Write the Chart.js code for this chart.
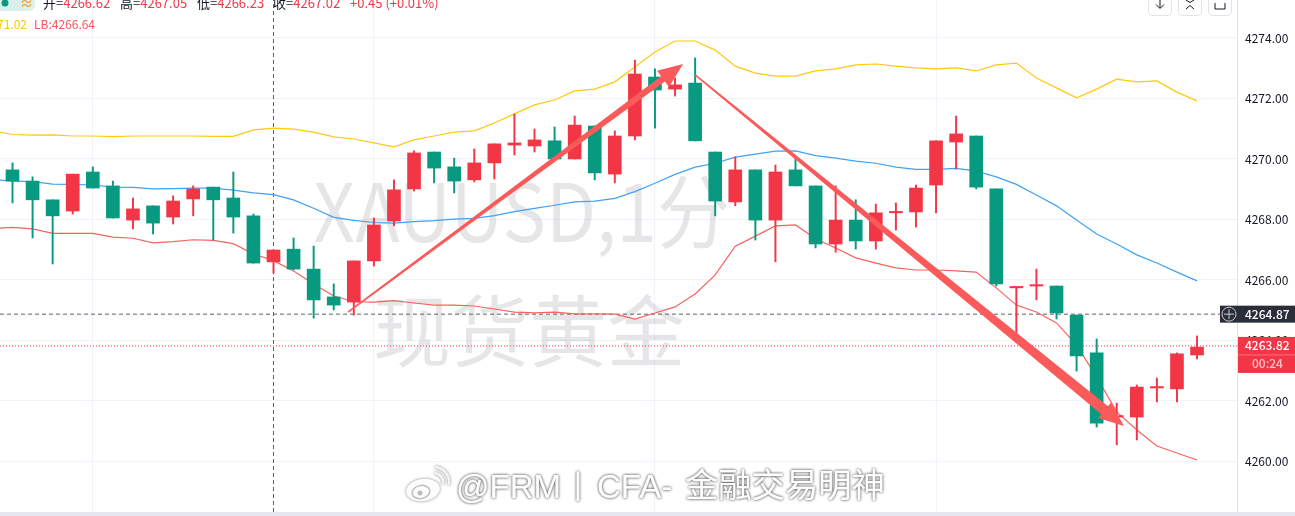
<!DOCTYPE html>
<html><head><meta charset="utf-8">
<style>html,body{margin:0;padding:0;background:#fff;overflow:hidden}canvas{display:block}</style>
<script src="https://cdn.jsdelivr.net/npm/chart.js@4"></script>
</head><body><canvas id="c" width="1295" height="516"></canvas>
<script>
const opens=[4269.64,4269.27,4268.65,4268.28,4269.57,4269.11,4267.98,4268.45,4268.08,4268.68,4269.07,4268.71,4268.12,4266.60,4267.02,4266.36,4265.44,4265.27,4266.63,4267.95,4269.01,4270.23,4269.74,4269.31,4269.87,4270.46,4270.43,4270.60,4270.00,4271.09,4269.50,4270.76,4272.71,4272.31,4272.51,4270.23,4268.58,4269.64,4267.98,4269.64,4269.11,4267.19,4267.98,4267.29,4268.22,4268.25,4269.14,4270.56,4270.76,4269.01,4265.74,4265.80,4265.80,4264.84,4263.59,4261.47,4261.47,4262.43,4262.40,4263.52];
const highs=[4269.87,4269.41,4268.65,4269.50,4269.74,4269.27,4268.71,4268.45,4268.78,4269.11,4269.07,4269.57,4268.18,4266.99,4267.39,4267.12,4265.87,4266.63,4268.05,4269.31,4270.27,4270.23,4270.03,4270.33,4270.50,4271.49,4270.99,4271.06,4271.42,4271.09,4270.93,4273.27,4272.98,4272.68,4273.34,4270.23,4270.07,4269.64,4269.80,4270.07,4269.11,4269.11,4268.65,4268.51,4268.55,4269.14,4270.60,4271.42,4270.76,4269.01,4265.77,4266.36,4265.80,4264.84,4264.05,4261.93,4262.53,4262.76,4263.59,4264.15];
const lows=[4268.55,4267.39,4266.53,4268.18,4269.04,4268.05,4267.69,4267.52,4267.85,4268.12,4267.32,4267.55,4266.56,4266.23,4266.33,4264.74,4265.01,4264.84,4266.46,4267.79,4268.94,4269.21,4268.88,4269.24,4269.34,4270.13,4270.23,4270.00,4270.00,4269.31,4269.21,4270.63,4271.02,4272.08,4270.60,4268.12,4268.45,4267.32,4266.60,4269.11,4267.06,4266.92,4267.02,4267.02,4267.65,4267.75,4268.22,4269.67,4269.01,4265.80,4264.18,4265.34,4264.71,4262.99,4261.14,4260.55,4260.71,4261.97,4261.97,4263.39];
const closes=[4269.27,4268.65,4268.12,4269.50,4269.04,4268.05,4268.35,4267.88,4268.61,4269.01,4268.65,4268.08,4266.56,4266.99,4266.36,4265.34,4265.17,4266.63,4267.82,4268.98,4270.20,4269.70,4269.27,4269.87,4270.50,4270.53,4270.63,4270.00,4271.12,4269.54,4270.76,4272.81,4272.28,4272.45,4270.60,4268.61,4269.64,4267.98,4269.57,4269.11,4267.19,4267.98,4267.29,4268.22,4268.25,4269.04,4270.60,4270.83,4269.07,4265.87,4265.77,4265.83,4264.91,4263.49,4261.27,4261.50,4262.46,4262.46,4263.56,4263.78];
// band values: first entry belongs to the bar just left of the visible window
const upperBand=[4270.93,4270.81,4270.79,4270.80,4270.76,4270.76,4270.74,4270.76,4270.76,4270.76,4270.76,4270.75,4270.75,4270.96,4271.02,4270.99,4270.89,4270.73,4270.66,4270.53,4270.40,4270.63,4270.76,4270.89,4270.93,4271.19,4271.49,4271.79,4271.95,4272.25,4272.31,4272.55,4273.04,4273.54,4273.90,4273.90,4273.60,4273.07,4272.84,4272.74,4272.74,4272.91,4272.98,4273.11,4273.14,4273.07,4273.01,4272.98,4273.01,4272.91,4273.11,4273.17,4272.68,4272.35,4272.02,4272.31,4272.64,4272.55,4272.58,4272.21,4271.92];
const middleBand=[4269.32,4269.27,4269.25,4269.17,4269.16,4269.14,4269.07,4269.06,4269.01,4269.02,4269.04,4269.04,4268.97,4268.88,4268.82,4268.65,4268.37,4268.07,4267.97,4267.90,4267.88,4267.93,4267.96,4268.01,4268.04,4268.13,4268.26,4268.37,4268.47,4268.58,4268.61,4268.70,4268.92,4269.20,4269.49,4269.73,4269.86,4270.06,4270.16,4270.26,4270.27,4270.11,4270.03,4269.93,4269.86,4269.73,4269.66,4269.66,4269.69,4269.60,4269.41,4269.16,4268.81,4268.45,4267.98,4267.52,4267.19,4266.83,4266.56,4266.26,4265.97];
const lowerBand=[4267.70,4267.74,4267.69,4267.54,4267.54,4267.54,4267.42,4267.38,4267.23,4267.27,4267.33,4267.31,4267.20,4266.86,4266.64,4266.30,4265.87,4265.47,4265.28,4265.27,4265.32,4265.24,4265.17,4265.17,4265.14,4265.04,4264.94,4264.91,4264.94,4264.88,4264.88,4264.87,4264.71,4264.91,4265.11,4265.54,4266.17,4267.12,4267.45,4267.79,4267.82,4267.36,4267.06,4266.73,4266.56,4266.40,4266.33,4266.33,4266.30,4266.26,4265.74,4265.17,4264.94,4264.58,4263.85,4262.79,4261.64,4261.04,4260.51,4260.28,4260.05];
const yTicks=[4260,4262,4264,4266,4268,4270,4272,4274];
const xGridBars=[4,18,32,46];
const crosshairBar=13;
const crosshairPrice=4264.87;
const lastPrice=4263.82;
const countdown="00:24";
const watermarkLines=["XAUUSD,1分","现货黄金"];
const stampParts=["@FRM","丨","CFA-","金融交易明神"];
const headerParts=[["开=",43],["高=",120],["低=",197],["收=",273]];
const headerValues=["4266.62","4267.05","4266.23","4267.02"];
const headerChange="+0.45 (+0.01%)";
const bandLabels=["71.02","LB:4266.64"];
const arrowsData=[
 {from:[16.71,4264.94],to:[33.40,4273.14],end:6.5},
 {from:[34.00,4272.78],to:[55.36,4261.17],end:10.5}
];

const UP='#f23645',DOWN='#089981',FONT='"Noto Sans CJK SC","Noto Sans",sans-serif',LATIN='"Liberation Sans",sans-serif';
const xMin=-0.6226,xMax=60.99,yMax=4275.256,yMin=4258.33;
const idx=opens.map((_,i)=>i);
const cols=idx.map(i=>closes[i]>=opens[i]?UP:DOWN);
const band=a=>a.map((v,i)=>({x:i-1,y:v}));

const decor={id:'decor',
 beforeDatasetsDraw(ch){
  const c=ch.ctx;c.save();c.fillStyle='rgba(19,23,34,0.105)';c.textBaseline='alphabetic';c.textAlign='center';
  c.save();c.translate(521.5,242);c.scale(0.9,1);c.font='400 81px '+FONT;c.fillText(watermarkLines[0],0,0);c.restore();
  c.font='400 78px '+FONT;c.fillText(watermarkLines[1],529,361);
  c.restore();
 },
 afterDatasetsDraw(ch){
  const c=ch.ctx,X=ch.scales.x,Y=ch.scales.y;c.save();c.fillStyle='#fa5a5a';
  arrowsData.forEach(a=>{
   const x0=X.getPixelForValue(a.from[0]),y0=Y.getPixelForValue(a.from[1]),x1=X.getPixelForValue(a.to[0]),y1=Y.getPixelForValue(a.to[1]);
   const L=Math.hypot(x1-x0,y1-y0),ux=(x1-x0)/L,uy=(y1-y0)/L,nx=-uy,ny=ux,hl=25,hw=10;
   const bx=x1-ux*hl,by=y1-uy*hl;
   c.beginPath();
   c.moveTo(x0+nx*.8,y0+ny*.8);c.lineTo(bx+nx*a.end/2,by+ny*a.end/2);c.lineTo(bx+nx*hw,by+ny*hw);c.lineTo(x1,y1);
   c.lineTo(bx-nx*hw,by-ny*hw);c.lineTo(bx-nx*a.end/2,by-ny*a.end/2);c.lineTo(x0-nx*.8,y0-ny*.8);c.closePath();c.fill();
  });
  c.restore();
 },
 afterDraw(ch){
  const c=ch.ctx,Y=ch.scales.y;c.save();
  // header
  c.textBaseline='alphabetic';c.textAlign='left';c.font='13px '+FONT;
  c.fillStyle='#d9f0ec';c.beginPath();c.roundRect(-4,-12,39,23,6);c.fill();
  c.fillStyle=DOWN;c.beginPath();c.arc(5,3,3.5,0,7);c.fill();
  c.fillStyle='#f7931a';c.fillText('≈',20,8);
  headerParts.forEach((p,i)=>{c.fillStyle='#131722';c.fillText(p[0],p[1],8);const w=c.measureText(p[0]).width;c.fillStyle=UP;c.fillText(headerValues[i],p[1]+w,8);});
  c.fillStyle=UP;c.fillText(headerChange,350,8);
  c.font='12px '+FONT;
  c.fillStyle='#ffc400';c.fillText(bandLabels[0],-3,29);
  c.fillStyle='#f7525f';c.fillText(bandLabels[1],34,29);
  // toolbar
  c.strokeStyle='#e0e3eb';c.lineWidth=1;
  [1148.5,1178.5,1208.5].forEach(x=>{c.beginPath();c.roundRect(x,-10,23,25.5,4);c.stroke();});
  c.strokeStyle='#131722';c.beginPath();
  c.moveTo(1160,0);c.lineTo(1160,8);c.moveTo(1156,4.5);c.lineTo(1160,8.5);c.lineTo(1164,4.5);
  c.moveTo(1186,9);c.lineTo(1190,5.5);c.lineTo(1194,9);c.moveTo(1186,0);c.lineTo(1190,2.5);c.lineTo(1194,0);
  c.moveTo(1215,3);c.lineTo(1215,9);c.lineTo(1225,9);c.lineTo(1225,3);c.stroke();
  // price tags
  const yc=Y.getPixelForValue(crosshairPrice),yl=Y.getPixelForValue(lastPrice);
  c.fillStyle='#2a2e39';c.fillRect(1220,yc-8.5,75,17);
  c.strokeStyle='#c8cad0';c.beginPath();c.arc(1229,yc,7,0,7);c.moveTo(1224,yc);c.lineTo(1234,yc);c.moveTo(1229,yc-5);c.lineTo(1229,yc+5);c.stroke();
  c.fillStyle='#f23645';c.fillRect(1238,yl-9,57,36);
  c.fillStyle='#f7727e';c.fillRect(1238,yl+8.5,57,1);
  c.textBaseline='middle';c.font='500 12px '+FONT;
  c.fillStyle='#fff';c.fillText(crosshairPrice.toFixed(2),1245,yc);c.fillText(lastPrice.toFixed(2),1245,yl);
  c.fillStyle='#fbc5ca';c.fillText(countdown,1252,yl+18);
  // bottom strip
  c.fillStyle='#e5e7f0';c.fillRect(0,512,1295,4);
  // stamp
  c.textBaseline='alphabetic';
  c.shadowColor='rgba(0,0,0,.5)';c.shadowBlur=3;c.fillStyle='#fdfdfd';
  for(let k=0;k<2;k++){
   c.font='400 33px '+LATIN;c.fillText(stampParts[0],456,498);c.fillText(stampParts[2],597,498);
   c.font='400 32px '+FONT;c.fillText(stampParts[1],562,498);
   c.font='400 33.3px '+FONT;c.fillText(stampParts[3],685,497);
  }
  c.beginPath();c.ellipse(423,490,17,11,-.15,0,7);c.fill();
  c.strokeStyle='#f4f4f4';c.lineWidth=2.5;
  c.beginPath();c.arc(434,482,9,-1.5,.2);c.stroke();
  c.beginPath();c.arc(434,482,15,-1.5,.2);c.stroke();
  c.shadowBlur=0;c.strokeStyle='#bdbdbd';c.lineWidth=1.5;
  c.beginPath();c.ellipse(421,492,9,6.5,-.2,0,7);c.stroke();
  c.fillStyle='#bdbdbd';c.beginPath();c.arc(420,493,2.5,0,7);c.fill();
  c.restore();
 }
};

new Chart(document.getElementById('c'),{
 type:'bar',
 data:{datasets:[
  {type:'bar',label:'body',order:1,grouped:false,barThickness:13,minBarLength:1.4,data:idx.map(i=>({x:i,y:[opens[i],closes[i]]})),backgroundColor:cols},
  {type:'bar',label:'wick',order:2,grouped:false,barThickness:1.3,data:idx.map(i=>({x:i,y:[lows[i],highs[i]]})),backgroundColor:cols},
  {type:'line',label:'UB',order:3,data:band(upperBand),borderColor:'#ffc90e',borderWidth:1.2,pointRadius:0,tension:0},
  {type:'line',label:'MB',order:3,data:band(middleBand),borderColor:'#3fa2f5',borderWidth:1.2,pointRadius:0,tension:0},
  {type:'line',label:'LB',order:3,data:band(lowerBand),borderColor:'#f7625f',borderWidth:1.2,pointRadius:0,tension:0},
  {type:'line',label:'hline',order:4,data:[{x:xMin,y:crosshairPrice},{x:xMax,y:crosshairPrice}],borderColor:'#5d606b',borderWidth:1,borderDash:[4,3],pointRadius:0},
  {type:'line',label:'last',order:4,data:[{x:xMin,y:lastPrice},{x:xMax,y:lastPrice}],borderColor:'#f23645',borderWidth:1,borderDash:[1,2],pointRadius:0},
  {type:'line',label:'vline',order:4,data:[{x:crosshairBar,y:yMin},{x:crosshairBar,y:yMax}],borderColor:'#5d606b',borderWidth:1,borderDash:[4,3],pointRadius:0}
 ]},
 options:{responsive:false,animation:false,devicePixelRatio:1,
  layout:{padding:{left:0,right:0,top:0,bottom:4}},
  plugins:{legend:{display:false},tooltip:{enabled:false}},
  scales:{
   x:{type:'linear',min:xMin,max:xMax,offset:false,
    afterBuildTicks(s){s.ticks=xGridBars.map(v=>({value:v}));},
    afterFit(s){s.height=0;s.paddingLeft=0;s.paddingRight=0;s.paddingTop=0;s.paddingBottom=0;},
    ticks:{display:false},border:{display:false},grid:{color:'#f0f3fa',drawTicks:false,offset:false}},
   y:{type:'linear',position:'right',min:yMin,max:yMax,
    afterBuildTicks(s){s.ticks=yTicks.map(v=>({value:v}));},
    afterFit(s){s.width=58;s.paddingTop=0;s.paddingBottom=0;s.paddingLeft=0;s.paddingRight=0;},
    ticks:{color:'#131722',font:{family:FONT,size:12},padding:8,callback:v=>v.toFixed(2)},
    border:{color:'#e0e3eb'},grid:{color:'#f0f3fa',drawTicks:false}}
  }
 },
 plugins:[decor]
});
</script></body></html>
